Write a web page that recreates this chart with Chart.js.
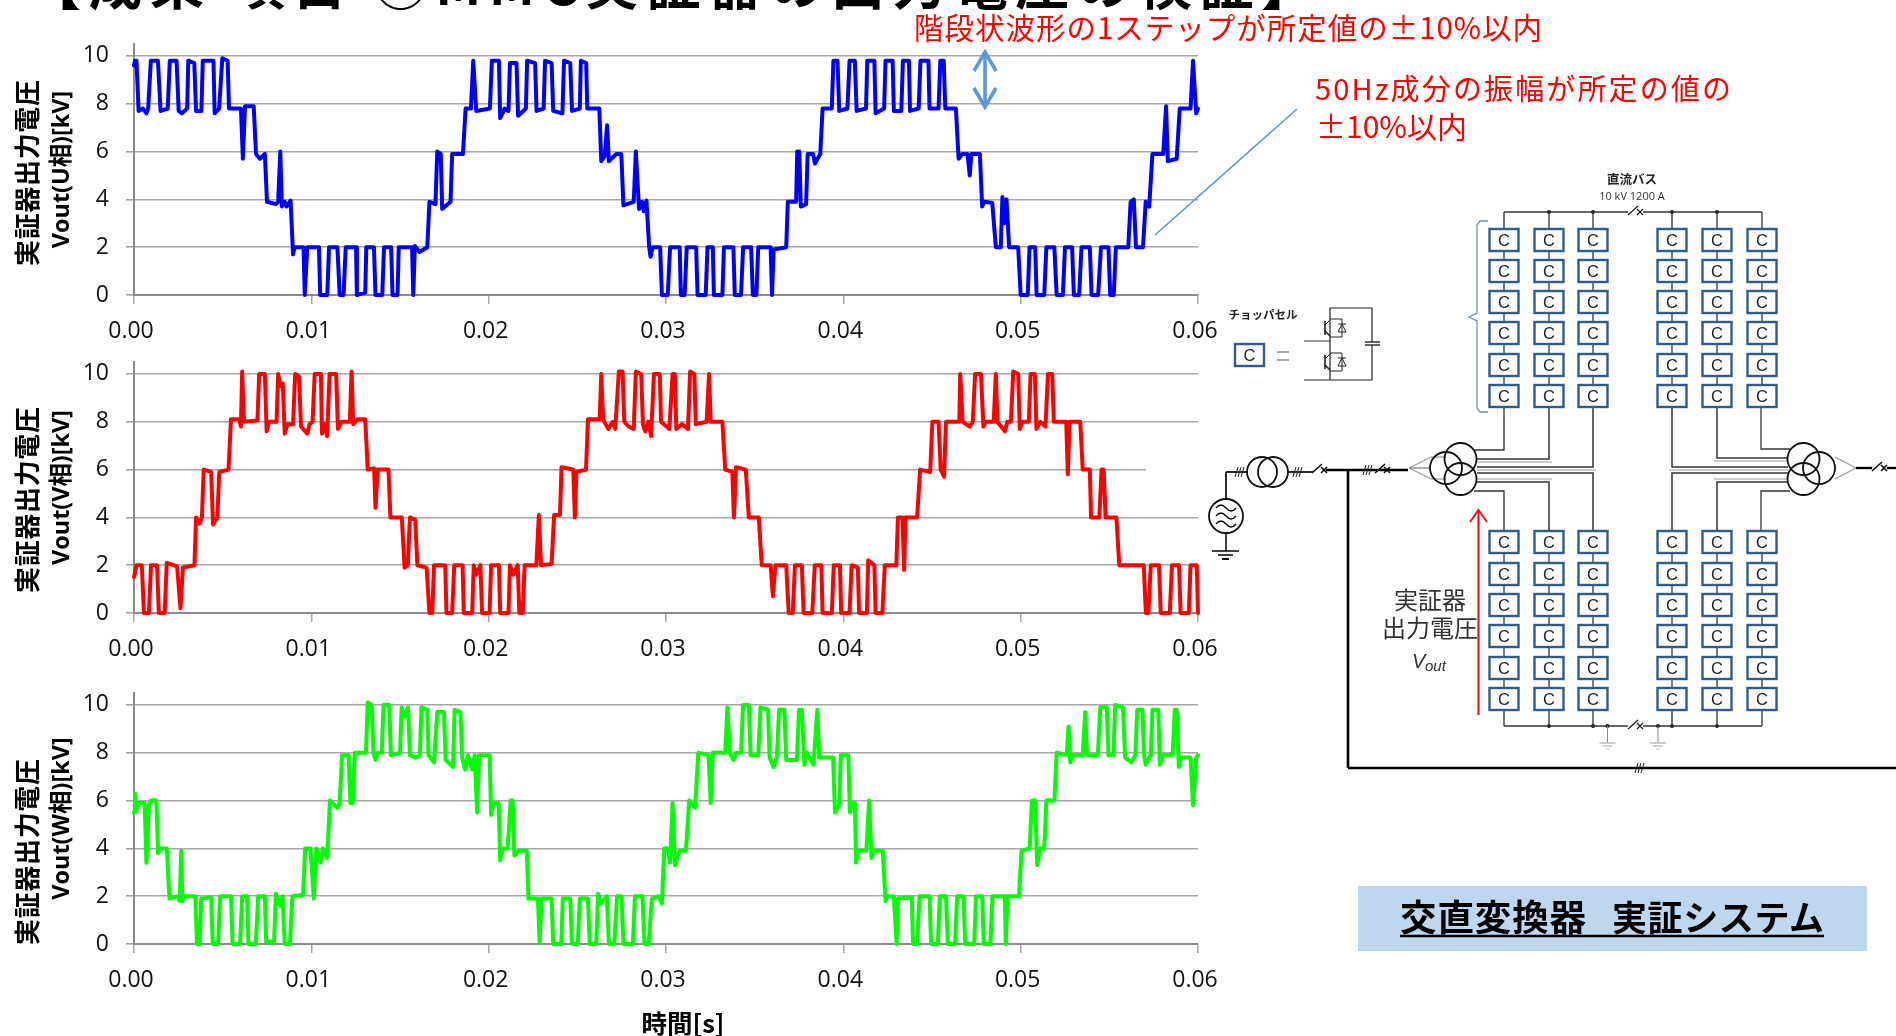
<!DOCTYPE html>
<html lang="ja">
<head>
<meta charset="utf-8">
<title>MMC実証器の出力電圧の検証</title>
<script src="https://cdn.jsdelivr.net/npm/chart.js@4/dist/chart.umd.min.js"></script>
<style>
html,body{margin:0;padding:0;background:#fff;width:1896px;height:1036px;overflow:hidden}
canvas{position:absolute;left:0;display:block}
svg{position:absolute;left:0;top:0;z-index:5;pointer-events:none}
</style>
</head>
<body>
<canvas id="cu" style="top:30px"></canvas>
<canvas id="cv" style="top:348px"></canvas>
<canvas id="cw" style="top:679px"></canvas>
<svg id="ov" width="1896" height="1036" xmlns="http://www.w3.org/2000/svg"></svg>
<script>
// tick labels
const xTickValues = [0, 0.01, 0.02, 0.03, 0.04, 0.05, 0.06];
const yTickValues = [0, 2, 4, 6, 8, 10];
const titlesY = ["Vout(U相)[kV]", "Vout(V相)[kV]", "Vout(W相)[kV]"];
// series: [time in ms, kV]
const uTrace = [[0,9.6],[0.06,9.8],[0.14,9.8],[0.26,7.7],[0.5,7.8],[0.7,7.6],[0.8,7.8],[0.95,9.8],[1.35,9.8],[1.5,7.7],[1.9,7.8],[2.02,9.8],[2.4,9.8],[2.52,7.7],[2.7,7.6],[3.0,7.8],[3.06,9.8],[3.4,9.7],[3.5,7.7],[3.8,7.7],[3.88,9.8],[4.48,9.8],[4.55,7.6],[4.8,7.8],[4.98,9.9],[5.28,9.8],[5.36,7.8],[6.03,7.8],[6.14,5.7],[6.26,7.9],[6.75,7.9],[6.88,5.9],[7.1,5.7],[7.38,5.9],[7.5,3.9],[8.0,3.8],[8.13,3.9],[8.25,6.0],[8.34,3.7],[8.5,3.9],[8.6,3.7],[8.83,3.95],[8.97,1.7],[9.05,2.0],[9.56,2.0],[9.63,0],[9.77,2.0],[10.43,2.0],[10.5,0],[10.9,0],[11.0,2.0],[11.47,2.0],[11.6,0],[11.82,0],[11.94,2.0],[12.52,2.0],[12.57,0],[13.04,0.1],[13.1,2.0],[13.53,2.0],[13.62,0],[14.0,0],[14.1,2.0],[14.5,2.0],[14.58,0],[14.86,0],[14.93,2.0],[15.68,2.0],[15.75,0],[15.84,2.05],[16.1,1.8],[16.54,2.0],[16.66,3.9],[17.0,3.8],[17.1,6.0],[17.3,5.9],[17.38,3.6],[17.85,3.9],[17.94,5.9],[18.55,5.9],[18.7,7.8],[19.0,7.8],[19.13,9.8],[19.3,7.7],[20.07,7.8],[20.18,9.8],[20.58,9.8],[20.65,7.4],[20.9,7.8],[21.12,7.7],[21.2,9.7],[21.57,9.7],[21.66,7.5],[22.1,7.8],[22.17,9.8],[22.62,9.7],[22.7,7.7],[23.1,7.8],[23.18,9.8],[23.55,9.7],[23.64,7.7],[24.16,7.6],[24.25,9.8],[24.6,9.7],[24.7,7.7],[25.14,7.8],[25.2,9.8],[25.5,9.7],[25.56,7.8],[26.24,7.8],[26.35,5.6],[26.54,5.8],[26.68,7.1],[26.78,5.6],[27.2,5.9],[27.48,5.9],[27.6,3.75],[28.18,3.9],[28.3,6.0],[28.48,3.6],[28.65,3.9],[28.75,3.5],[28.9,3.95],[29.05,2.0],[29.13,1.6],[29.25,2.0],[29.67,2.0],[29.77,0],[30.1,0],[30.23,2.0],[30.77,2.0],[30.84,0],[31.05,0],[31.17,2.0],[31.7,2.0],[31.78,0],[32.24,0],[32.34,2.0],[32.64,2.0],[32.7,0],[33.18,0],[33.27,2.0],[33.8,2.0],[33.88,0],[34.23,0],[34.35,2.0],[34.8,2.0],[34.9,0],[35.1,0],[35.2,2.0],[35.9,2.0],[35.98,0],[36.07,1.9],[36.78,2.0],[36.87,3.9],[37.34,3.9],[37.4,6.0],[37.52,6.0],[37.6,3.7],[37.9,3.8],[37.99,5.9],[38.3,5.9],[38.4,5.5],[38.7,5.9],[38.83,7.8],[39.35,7.8],[39.44,9.8],[39.67,9.8],[39.77,7.7],[40.23,7.8],[40.35,9.8],[40.65,9.8],[40.75,7.7],[41.28,7.8],[41.35,9.8],[41.75,9.8],[41.82,7.6],[42.3,7.8],[42.38,9.8],[42.78,9.8],[42.85,7.7],[43.27,7.7],[43.36,9.8],[43.7,9.8],[43.76,7.7],[44.25,7.8],[44.35,9.8],[44.8,9.8],[44.86,7.8],[45.37,7.8],[45.47,9.8],[45.66,9.8],[45.75,7.8],[46.35,7.8],[46.5,5.7],[46.7,5.9],[47.0,5.9],[47.13,5.0],[47.22,5.9],[47.7,5.9],[47.83,3.7],[47.95,3.9],[48.4,3.85],[48.6,2.0],[48.88,2.0],[48.97,4.1],[49.08,3.0],[49.2,4.0],[49.35,2.0],[49.86,2.0],[50.0,0],[50.4,0],[50.5,2.0],[50.82,2.0],[50.9,0],[51.33,0],[51.45,2.0],[51.9,2.0],[52.03,0],[52.38,0],[52.5,2.0],[52.9,2.0],[53.0,0],[53.3,0],[53.43,2.0],[53.9,2.0],[54.0,0],[54.37,0],[54.53,2.0],[54.95,2.0],[55.05,0],[55.25,0],[55.37,2.0],[56.07,2.0],[56.2,3.9],[56.38,4.0],[56.5,2.0],[56.9,2.0],[57.05,3.9],[57.25,3.7],[57.43,5.9],[58.04,5.9],[58.2,7.9],[58.3,5.6],[58.8,5.7],[58.97,7.8],[59.58,7.8],[59.72,9.8],[59.9,7.6],[60,7.8]];
const vTrace = [[0,1.5],[0.14,2.0],[0.44,2.0],[0.56,0],[0.84,0],[0.96,2.0],[1.3,2.0],[1.4,0],[1.73,0],[1.85,2.1],[2.43,1.95],[2.62,0.2],[2.76,1.9],[3.41,2.0],[3.5,4.0],[3.7,3.75],[3.83,4.0],[3.93,6.0],[4.35,5.9],[4.46,3.7],[4.7,4.0],[4.81,5.9],[5.33,6.0],[5.47,8.1],[5.93,8.1],[6.03,7.8],[6.1,10.1],[6.2,8.0],[6.96,8.05],[7.06,10],[7.38,10],[7.48,7.6],[7.62,8.0],[8.04,8.0],[8.13,10],[8.27,9.5],[8.39,9.6],[8.5,7.5],[8.65,7.9],[8.97,7.9],[9.09,10],[9.3,9.9],[9.42,7.8],[9.77,7.5],[9.9,7.9],[10.07,8.0],[10.19,10],[10.54,10],[10.6,7.5],[10.75,7.9],[10.89,7.4],[11.03,10],[11.4,10],[11.5,7.7],[11.7,8.0],[12.17,8.0],[12.27,10.1],[12.36,7.9],[12.6,8.1],[13.04,8.1],[13.18,6.0],[13.54,6.05],[13.62,4.4],[13.74,6.0],[14.35,6.0],[14.46,4.0],[15.1,4.0],[15.26,1.9],[15.44,2.0],[15.56,4.0],[15.86,3.9],[15.98,2.0],[16.5,1.9],[16.66,0],[16.82,0],[16.92,2.0],[17.55,2.0],[17.62,0],[17.94,0],[18.06,2.0],[18.53,2.0],[18.6,0],[19.07,0],[19.16,2.0],[19.3,1.6],[19.53,2.0],[19.63,0],[20.05,0],[20.14,2.0],[20.58,2.0],[20.65,0],[21.12,0],[21.2,2.0],[21.38,1.6],[21.64,2.0],[21.73,0],[21.92,0],[22.03,2.0],[22.69,2.0],[22.83,4.1],[22.95,2.0],[23.55,2.05],[23.69,4.1],[24.02,4.1],[24.11,6.1],[24.77,6.0],[24.86,4.0],[24.95,5.9],[25.49,6.0],[25.6,8.1],[26.26,8.1],[26.35,10],[26.45,8.1],[26.75,7.7],[27.0,8.0],[27.14,7.7],[27.34,10.1],[27.55,10.1],[27.65,8.0],[27.9,7.8],[28.18,7.7],[28.3,10.1],[28.6,10],[28.7,7.9],[28.83,7.6],[29.0,8.0],[29.16,7.4],[29.32,10],[29.65,10],[29.72,8.0],[30.19,7.7],[30.37,10],[30.5,10],[30.58,7.7],[30.9,7.9],[31.24,7.7],[31.36,10.1],[31.6,10],[31.68,7.9],[32.29,8.0],[32.43,10],[32.52,8.0],[33.18,8.0],[33.34,6.0],[33.74,5.9],[33.83,4.0],[33.95,6.1],[34.5,6.0],[34.67,4.0],[35.23,4.0],[35.4,2.0],[35.9,2.0],[36.03,0.7],[36.17,2.0],[36.78,2.0],[36.92,0],[37.15,0],[37.27,2.0],[37.66,2.0],[37.76,0],[38.25,0],[38.39,2.0],[38.76,2.0],[38.83,0],[39.35,0],[39.46,2.0],[39.81,2.0],[39.88,0],[40.35,0],[40.47,2.0],[40.82,1.9],[40.89,0],[41.33,0],[41.4,2.2],[41.75,2.0],[41.82,0],[42.2,0],[42.34,2.0],[42.99,2.0],[43.08,4.0],[43.33,4.0],[43.43,1.8],[43.5,4.0],[44.16,4.0],[44.33,6.0],[44.9,5.9],[45.02,8.0],[45.37,8.0],[45.49,6.0],[45.68,5.7],[45.79,8.0],[46.54,8.0],[46.59,10],[46.73,8.0],[47.13,7.8],[47.3,8.0],[47.43,10],[47.76,10],[47.9,7.8],[48.05,8.0],[48.48,8.0],[48.6,10],[48.69,8.0],[49.11,7.6],[49.25,8.0],[49.45,8.0],[49.58,10.1],[49.86,10],[49.95,7.7],[50.1,8.0],[50.46,8.0],[50.56,10],[50.8,10],[50.89,7.7],[51.1,8.0],[51.4,7.8],[51.54,10],[51.78,10],[51.87,8.0],[52.57,8.0],[52.66,5.8],[52.76,8.0],[53.36,8.0],[53.5,6.0],[53.9,6.0],[53.97,4.0],[54.44,4.0],[54.56,6.0],[54.68,6.0],[54.79,4.0],[55.4,4.0],[55.56,2.0],[56.94,2.0],[57.06,0],[57.2,0],[57.34,2.0],[57.8,2.0],[57.9,0],[58.41,0],[58.53,2.0],[58.93,2.0],[59.02,0],[59.48,0],[59.58,2.0],[59.93,2.0],[60,0]];
const wTrace = [[0,5.5],[0.05,6.3],[0.14,5.6],[0.25,5.9],[0.6,5.9],[0.7,3.4],[0.84,5.8],[0.96,6.0],[1.26,6.0],[1.36,3.8],[1.5,4.0],[1.85,4.0],[2.0,1.9],[2.48,2.0],[2.58,1.8],[2.66,3.9],[2.73,1.8],[2.85,2.0],[3.46,2.0],[3.55,0],[3.7,0],[3.79,1.9],[4.35,1.95],[4.44,0],[4.74,0],[4.86,2.0],[5.47,2.0],[5.56,0],[5.98,0],[6.1,2.0],[6.38,2.0],[6.45,0],[6.87,0],[7.0,2.0],[7.38,2.0],[7.45,0.1],[7.9,0.1],[8.0,2.1],[8.25,1.6],[8.38,2.0],[8.5,0],[8.79,0],[8.93,2.0],[9.53,2.05],[9.65,4.0],[9.95,4.0],[10.14,1.9],[10.28,4.0],[10.51,3.4],[10.65,4.0],[10.89,3.6],[11.05,6.0],[11.47,5.7],[11.6,5.9],[11.73,7.9],[12.1,7.9],[12.2,5.9],[12.33,5.9],[12.45,8.0],[13.08,8.0],[13.18,10.1],[13.41,10],[13.5,8.0],[13.62,7.7],[13.75,8.0],[13.97,8.0],[14.07,10],[14.39,10],[14.49,7.9],[15.0,8.0],[15.09,9.9],[15.25,9.5],[15.45,9.9],[15.56,7.9],[15.9,7.8],[16.12,7.9],[16.21,9.9],[16.54,9.8],[16.61,7.9],[16.92,7.6],[17.1,9.7],[17.48,9.7],[17.57,7.7],[17.99,7.4],[18.08,9.8],[18.41,9.7],[18.5,7.8],[18.67,7.3],[18.83,7.9],[19.07,7.3],[19.21,7.9],[19.35,5.5],[19.46,7.9],[20.05,7.9],[20.14,5.4],[20.28,5.9],[20.56,5.9],[20.65,3.5],[20.8,4.0],[21.07,4.0],[21.24,6.0],[21.35,6.0],[21.45,3.7],[21.7,3.9],[22.15,3.9],[22.24,1.9],[22.78,1.9],[22.87,0.1],[22.99,1.9],[23.55,1.9],[23.64,0],[24.09,0],[24.18,1.9],[24.6,1.9],[24.7,0],[25.02,0],[25.14,1.9],[25.6,1.9],[25.7,0],[26.07,0],[26.17,2.1],[26.32,1.7],[26.66,2.0],[26.78,0],[27.08,0],[27.24,2.0],[27.49,2.0],[27.6,0],[28.13,0],[28.25,2.0],[28.67,2.0],[28.79,0],[29.02,0],[29.2,1.9],[29.6,2.0],[29.77,1.7],[29.9,4.0],[30.09,4.0],[30.23,3.4],[30.37,5.9],[30.51,3.3],[30.77,3.9],[31.12,3.9],[31.31,6.0],[31.64,5.7],[31.82,8.0],[32.4,7.9],[32.52,5.9],[32.64,8.0],[33.34,8.0],[33.46,9.9],[33.6,8.0],[33.8,7.7],[33.95,8.0],[34.23,8.0],[34.35,10],[34.67,10],[34.77,7.9],[35.2,7.9],[35.33,9.9],[35.75,9.8],[35.84,7.8],[36.07,7.4],[36.25,7.8],[36.38,9.8],[36.68,9.8],[36.78,7.7],[37.38,7.7],[37.5,9.8],[37.66,9.8],[37.8,7.5],[37.95,8.0],[38.32,7.5],[38.53,9.8],[38.64,7.8],[39.42,7.8],[39.53,5.5],[39.76,5.8],[39.86,7.9],[40.28,7.9],[40.37,5.5],[40.5,5.9],[40.65,5.9],[40.72,3.4],[40.84,3.9],[41.3,3.9],[41.45,6.0],[41.59,3.6],[41.75,3.9],[42.22,3.9],[42.38,1.8],[42.5,2.0],[42.85,2.0],[43.0,0],[43.08,1.9],[43.86,1.95],[43.93,0],[44.16,0],[44.3,2.0],[44.86,2.0],[44.95,0],[45.33,0],[45.44,2.0],[45.79,2.0],[45.89,0],[46.3,0],[46.42,2.0],[46.78,2.0],[46.87,0],[47.38,0],[47.48,2.0],[47.83,2.0],[47.92,0],[48.29,0],[48.41,2.0],[49.11,2.0],[49.16,0],[49.25,2.0],[49.9,2.0],[50.05,3.9],[50.51,4.0],[50.63,6.0],[50.82,6.0],[50.93,3.3],[51.1,4.0],[51.33,4.0],[51.45,6.0],[51.9,6.0],[52.03,8.0],[52.6,7.9],[52.7,9.1],[52.8,7.6],[52.95,7.9],[53.5,7.9],[53.64,9.7],[53.74,7.9],[54.35,7.9],[54.49,9.9],[54.86,9.9],[54.95,7.9],[55.23,7.9],[55.33,10],[55.77,9.9],[55.89,7.8],[56.24,7.6],[56.47,7.9],[56.57,9.8],[56.87,9.8],[56.96,7.9],[57.05,7.5],[57.34,7.9],[57.43,9.8],[57.76,9.8],[57.85,7.5],[58.0,7.9],[58.57,7.9],[58.69,9.8],[58.8,9.8],[58.92,7.4],[59.05,7.8],[59.58,7.8],[59.72,5.8],[59.9,7.8],[60,7.9]];

const FONT = "'Open Sans','Noto Sans CJK JP',sans-serif";
const CJK = "'Noto Sans CJK JP',sans-serif";

function makeChart(id, trace, color, yTitle) {
  const el = document.getElementById(id);
  new Chart(el, {
    type: 'line',
    data: { datasets: [{
      data: trace.map(p => ({ x: p[0] / 1000, y: p[1] })),
      borderColor: color, backgroundColor: color, borderWidth: 4,
      pointRadius: 0, tension: 0, fill: false, clip: false,
      borderJoinStyle: 'round', borderCapStyle: 'round'
    }] },
    options: {
      responsive: false, animation: false, devicePixelRatio: 1,
      layout: { padding: { top: 14, right: 30, left: 0, bottom: 0 } },
      plugins: { legend: { display: false }, tooltip: { enabled: false } },
      scales: {
        x: {
          type: 'linear', min: 0, max: 0.06,
          afterFit: s => { s.height = 53; s.paddingLeft = 0; s.paddingRight = 0; },
          afterBuildTicks: s => { s.ticks = xTickValues.map(v => ({ value: v })); },
          border: { color: '#8c8c8c', width: 2 },
          grid: { drawOnChartArea: false, drawTicks: true, tickLength: 9, color: '#a6a6a6', lineWidth: 1.5 },
          ticks: { autoSkip: false, maxRotation: 0, minRotation: 0, padding: 14, labelOffset: -3,
            color: '#111', font: { family: FONT, size: 23 },
            callback: v => Number(v).toFixed(2) }
        },
        y: {
          type: 'linear', min: 0, max: 10.5,
          afterFit: s => { s.width = 134; s.paddingTop = 0; s.paddingBottom = 0; },
          afterBuildTicks: s => { s.ticks = yTickValues.map(v => ({ value: v })); },
          border: { color: '#8c8c8c', width: 2 },
          grid: { color: '#a6a6a6', lineWidth: 1.6, tickLength: 8, drawTicks: true },
          title: { display: true, text: yTitle, color: '#000',
            font: { family: FONT, size: 23.4, weight: 'bold' }, padding: { top: 48, bottom: 0 } },
          ticks: { padding: 17, color: '#111', font: { family: FONT, size: 23 } }
        }
      }
    }
  });
}
function size(id) { const c = document.getElementById(id); c.width = 1228; c.height = 318; c.style.width = '1228px'; c.style.height = '318px'; }
['cu', 'cv', 'cw'].forEach(size);

// ---------- annotations and the converter diagram ----------
let s = '';
const L = (x1, y1, x2, y2, c = '#333', w = 1.3, extra = '') => { s += `<line x1="${x1}" y1="${y1}" x2="${x2}" y2="${y2}" stroke="${c}" stroke-width="${w}" ${extra}/>`; };
const P = (pts, c = '#333', w = 1.3, fill = 'none') => { s += `<polyline points="${pts}" stroke="${c}" stroke-width="${w}" fill="${fill}"/>`; };
const T = (x, y, str, size, o = {}) => {
  s += `<text x="${x}" y="${y}" font-family="${o.fam || CJK}" font-size="${size}" font-weight="${o.w || 'normal'}" fill="${o.c || '#000'}" text-anchor="${o.a || 'start'}"` +
    `${o.len ? ` textLength="${o.len}" lengthAdjust="spacing"` : ''}${o.it ? ' font-style="italic"' : ''}>${str}</text>`;
};
const C = (cx, cy, r, c = '#111', w = 1.8, fill = 'none') => { s += `<circle cx="${cx}" cy="${cy}" r="${r}" stroke="${c}" stroke-width="${w}" fill="${fill}"/>`; };
const D = (cx, cy, r = 2) => { s += `<circle cx="${cx}" cy="${cy}" r="${r}" fill="#222"/>`; };
const SL = (x, y) => { for (let i = 0; i < 3; i++) L(x + i * 3 - 3, y + 5, x + i * 3, y - 5, '#222', 1); };
const BRK = (x, y, c = '#222', w = 1.3) => { L(x, y + 3, x + 10, y - 6, c, w); L(x + 9, y - 3, x + 15, y + 3, c, w); L(x + 15, y - 3, x + 9, y + 3, c, w); };

// page title (cut off by the top of the page)
T(27, 5, '【成果 項目 ①MMC実証器の出力電圧の検証】', 54, { w: 'bold', len: 1288 });

// rotated first lines of the y-axis titles and the x-axis title
[173, 500, 852].forEach(cy => { s += `<text x="0" y="0" transform="translate(37 ${cy}) rotate(-90)" font-family="${CJK}" font-size="26" font-weight="bold" text-anchor="middle" textLength="186" lengthAdjust="spacing">実証器出力電圧</text>`; });
T(683, 1033, '時間[s]', 25.5, { w: 'bold', a: 'middle' });

// red notes
T(914, 39, '階段状波形の1ステップが所定値の±10%以内', 29.5, { c: '#ff0000', len: 628 });
T(1315, 100, '50Hz成分の振幅が所定の値の', 29, { c: '#ff0000', len: 416 });
T(1316, 138, '±10%以内', 30, { c: '#ff0000' });

// blue arrow and leader
const B = '#5b9bd5';
L(985, 52, 985, 107, B, 3.6);
P('974,71 985,52 996,71', B, 3.6);
P('974,88 985,107 996,88', B, 3.6);
L(1297, 109, 1155, 235, B, 1.6);

// gridline gap of the middle chart
s += '<rect x="1146" y="463" width="56" height="12" fill="#fff"/>';

// diagram geometry
const cols = [1504, 1549, 1593, 1672, 1717, 1762];
const rowsUp = [240, 271, 302, 333, 365, 396];
const rowsLo = [542, 574, 605, 636, 668, 699];
const busTop = 212, busBot = 726;

// buses
L(cols[0], busTop, 1628, busTop); BRK(1628, busTop); L(1643, busTop, cols[5], busTop);
L(cols[0], busBot, 1628, busBot); BRK(1628, busBot); L(1643, busBot, cols[5], busBot);
[1, 2, 3, 4].forEach(i => { D(cols[i], busTop); D(cols[i], busBot); });
D(1607.5, busBot); D(1658, busBot);
[1607.5, 1658].forEach(x => { L(x, busBot, x, 742, '#888', 1); L(x - 8, 743, x + 8, 743, '#999', 1); L(x - 5, 746, x + 5, 746, '#aaa', 1); L(x - 2, 749, x + 2, 749, '#bbb', 1); });

// column wires
cols.forEach(x => { L(x, busTop, x, 396); L(x, 542, x, busBot); });
// wires to the left transformer
P('1504,396 1504,450 1474,450'); P('1549,396 1549,459 1477,459', '#333', 1.5); P('1593,396 1593,467 1477,467', '#333', 1.5);
P('1477,473 1593,473 1593,542', '#333', 1.5); P('1477,482 1549,482 1549,542', '#333', 1.5); P('1474,491 1504,491 1504,542');
P('1477,462 1552,462', '#999', 1); P('1477,470 1596,470', '#999', 1); P('1477,479 1552,479', '#999', 1);
// wires to the right transformer
P('1672,396 1672,467 1788,467', '#333', 1.5); P('1717,396 1717,458 1788,458', '#333', 1.5); P('1761,396 1761,449 1790,449');
P('1672,542 1672,473 1788,473', '#333', 1.5); P('1717,542 1717,482 1788,482', '#333', 1.5); P('1761,542 1761,491 1790,491');
P('1714,461 1788,461', '#999', 1); P('1669,470 1788,470', '#999', 1); P('1714,479 1788,479', '#999', 1);

// chopper cells
const cell = (x, y) => {
  s += `<rect x="${x - 14.5}" y="${y - 11}" width="29" height="22" fill="#fff" stroke="#2f5c8f" stroke-width="2.4"/>`;
  T(x, y + 6, 'C', 16.5, { fam: "'Liberation Sans',sans-serif", a: 'middle', c: '#222' });
};
cols.forEach(x => { rowsUp.forEach(y => cell(x, y)); rowsLo.forEach(y => cell(x, y)); });

// bracket
P('1488,221 1480,221 1477,225 1477,313 1469,317 1477,321 1477,408 1480,412 1488,412', '#6f8fb5', 1.3);

// bus labels
T(1632, 184, '直流バス', 12.5, { w: 'bold', a: 'middle', c: '#222' });
T(1632, 200, '10 kV 1200 A', 11, { fam: FONT, a: 'middle', c: '#333' });

// chopper inset
T(1263, 319, 'チョッパセル', 11.5, { w: 'bold', a: 'middle', c: '#222' });
s += '<rect x="1235" y="344" width="29" height="22" fill="#fff" stroke="#2f5c8f" stroke-width="2.4"/>';
T(1249.5, 361, 'C', 16.5, { fam: "'Liberation Sans',sans-serif", a: 'middle', c: '#222' });
L(1277, 352, 1289, 352, '#555', 1); L(1277, 360, 1289, 360, '#555', 1);
P('1330,380 1330,308 1372,308 1372,342', '#222', 1.2);
P('1304,380 1372,380 1372,345', '#222', 1.2);
L(1365, 342, 1380, 342, '#222', 1.4); L(1365, 345, 1380, 345, '#222', 1.4);
L(1304, 341, 1330, 341, '#333', 1);
[328, 362].forEach(y => {
  P(`1330,${y - 9} 1342,${y - 9} 1342,${y + 9} 1330,${y + 9}`, '#222', 1);
  P(`1338,${y + 4} 1346,${y + 4} 1342,${y - 4} 1338,${y + 4}`, '#222', 1);
  L(1338, y - 4, 1346, y - 4, '#222', 1);
  L(1325, y - 7, 1325, y + 7, '#222', 1.6);
  L(1325, y - 3, 1330, y - 8, '#222', 1); L(1325, y + 3, 1330, y + 8, '#222', 1.6);
});

// left feed
C(1262, 472, 15); C(1273, 472, 15);
L(1226, 472, 1247, 472, '#111', 1.8); SL(1238, 472);
L(1226, 472, 1226, 499, '#111', 1.8);
s += '<ellipse cx="1226" cy="516" rx="17" ry="17" stroke="#111" stroke-width="1.8" fill="#fff"/>';
[508, 516, 524].forEach(y => { s += `<path d="M1216 ${y} q5 -6 10 0 t10 0" stroke="#111" stroke-width="1.4" fill="none"/>`; });
L(1226, 533, 1226, 551, '#111', 1.6);
L(1212, 551, 1239, 551, '#111', 1.6); L(1218, 555, 1233, 555, '#111', 1.6); L(1222, 559, 1229, 559, '#111', 2);
L(1288, 472, 1313, 472, '#111', 1.8); SL(1296, 472);
BRK(1312, 470, '#111', 1.6);
L(1326, 470, 1408, 470, '#000', 2.4); SL(1366, 470);
BRK(1375, 470, '#111', 1.6);
L(1348, 470, 1348, 768, '#000', 2.6);
L(1348, 768, 1896, 768, '#000', 2.6); SL(1638, 768);

// left transformer
L(1409, 468, 1431, 457, '#999', 1.2); L(1409, 468, 1431, 479, '#999', 1.2); L(1409, 468, 1431, 468, '#777', 1.2);
L(1431, 457, 1446, 457, '#999', 1.2); L(1431, 479, 1446, 479, '#999', 1.2);
C(1446, 468, 16, '#111'); C(1460.5, 459, 16, '#111'); C(1460.5, 479, 16, '#111');
// right transformer
C(1803.5, 459, 16, '#111'); C(1803.5, 479, 16, '#111'); C(1819, 468, 16, '#111');
L(1835, 457, 1856, 468, '#999', 1.2); L(1835, 479, 1856, 468, '#999', 1.2);
L(1856, 468, 1872, 468, '#000', 2.4); BRK(1872, 468, '#111', 1.6); L(1887, 468, 1896, 468, '#000', 2.4);

// Vout arrow and labels
L(1478.5, 715, 1478.5, 511, '#e8141e', 2.2);
P('1470,522 1478.5,510 1487,522', '#e8141e', 2);
T(1430, 609, '実証器', 24, { a: 'middle', c: '#333' });
T(1430, 637, '出力電圧', 24, { a: 'middle', c: '#333' });
T(1412, 668, 'V', 20, { fam: "'Liberation Sans',sans-serif", it: true, c: '#333' });
T(1425, 671, 'out', 15, { fam: "'Liberation Sans',sans-serif", it: true, c: '#333' });

// caption box
s += '<rect x="1358" y="886" width="509" height="65" fill="#bdd7ee"/>';
T(1400, 931, '交直変換器', 36.5, { w: 'bold', len: 186 });
T(1612, 931, '実証システム', 35, { w: 'bold', len: 212 });
L(1400, 936, 1824, 936, '#000', 2.4);

document.getElementById('ov').innerHTML = s;

makeChart('cu', uTrace, '#0000ff', titlesY[0]);
makeChart('cv', vTrace, '#ff0000', titlesY[1]);
makeChart('cw', wTrace, '#00ff00', titlesY[2]);
</script>
</body>
</html>
